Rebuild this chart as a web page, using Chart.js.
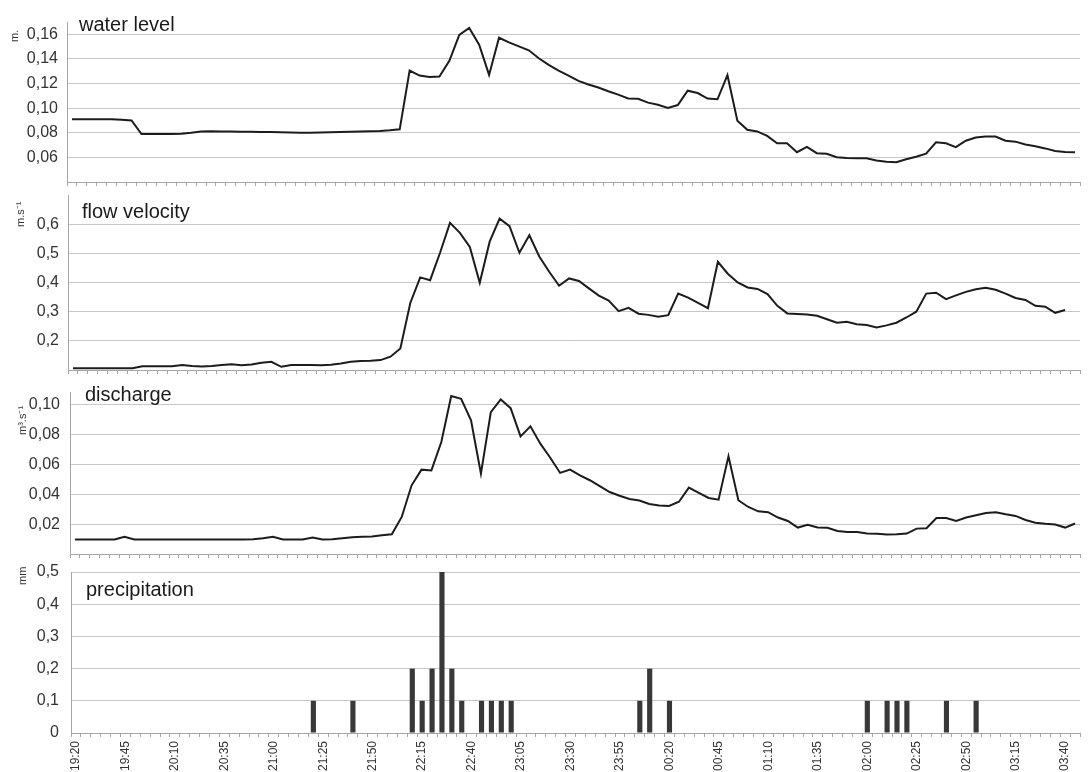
<!DOCTYPE html>
<html>
<head>
<meta charset="utf-8">
<script src="https://cdn.jsdelivr.net/npm/chart.js@4/dist/chart.umd.min.js"></script>
<style>
  html, body { margin: 0; padding: 0; background: #ffffff; }
  #wrap { position: relative; width: 1088px; height: 772px; overflow: hidden; background: #ffffff; }
  #wrap canvas { position: absolute; left: 0; }
</style>
</head>
<body>
<div id="wrap">
  <canvas id="pWater" width="1088" height="190" style="top:0px"></canvas>
  <canvas id="pVelocity" width="1088" height="188" style="top:190px"></canvas>
  <canvas id="pDischarge" width="1088" height="184" style="top:378px"></canvas>
  <canvas id="pPrecip" width="1088" height="210" style="top:562px"></canvas>
</div>
<script>
// 5-minute time steps of the storm event
const timeLabels = [
  '19:20','19:25','19:30','19:35','19:40','19:45','19:50','19:55',
  '20:00','20:05','20:10','20:15','20:20','20:25','20:30','20:35','20:40','20:45','20:50','20:55',
  '21:00','21:05','21:10','21:15','21:20','21:25','21:30','21:35','21:40','21:45','21:50','21:55',
  '22:00','22:05','22:10','22:15','22:20','22:25','22:30','22:35','22:40','22:45','22:50','22:55',
  '23:00','23:05','23:10','23:15','23:20','23:25','23:30','23:35','23:40','23:45','23:50','23:55',
  '00:00','00:05','00:10','00:15','00:20','00:25','00:30','00:35','00:40','00:45','00:50','00:55',
  '01:00','01:05','01:10','01:15','01:20','01:25','01:30','01:35','01:40','01:45','01:50','01:55',
  '02:00','02:05','02:10','02:15','02:20','02:25','02:30','02:35','02:40','02:45','02:50','02:55',
  '03:00','03:05','03:10','03:15','03:20','03:25','03:30','03:35','03:40','03:45'
];

// water level [m]
const waterLevel = [
  0.091, 0.091, 0.091, 0.091, 0.091, 0.0905, 0.090, 0.079, 0.079, 0.079,
  0.079, 0.0793, 0.0800, 0.0810, 0.0812, 0.0811, 0.0810, 0.0809, 0.0808, 0.0807,
  0.0806, 0.0805, 0.0803, 0.0801, 0.0800, 0.0802, 0.0804, 0.0806, 0.0808, 0.0810,
  0.0812, 0.0815, 0.0820, 0.0828, 0.1306, 0.1265, 0.1254, 0.1257, 0.1385, 0.1595,
  0.1652, 0.1515, 0.1270, 0.1572, 0.1535, 0.1502, 0.1470, 0.1405, 0.1352, 0.1305,
  0.1265, 0.1222, 0.1192, 0.1168, 0.1137, 0.1110, 0.1078, 0.1076, 0.1045, 0.1028,
  0.1001, 0.1025, 0.1142, 0.1123, 0.1078, 0.1072, 0.1268, 0.0898, 0.0824, 0.0811,
  0.0775, 0.0715, 0.0714, 0.0642, 0.0686, 0.0634, 0.0629, 0.0601, 0.0595, 0.0593,
  0.0592, 0.0575, 0.0565, 0.0561, 0.0585, 0.0605, 0.0630, 0.0723, 0.0714, 0.0683,
  0.0735, 0.0762, 0.0770, 0.0770, 0.0735, 0.0728, 0.0705, 0.0690, 0.0673, 0.0652,
  0.0643, 0.0641
];

// flow velocity [m.s-1]
const flowVelocity = [
  0.106, 0.106, 0.106, 0.106, 0.106, 0.106, 0.106, 0.113, 0.113, 0.113,
  0.113, 0.117, 0.114, 0.112, 0.114, 0.117, 0.120, 0.116, 0.119, 0.125,
  0.128, 0.111, 0.117, 0.117, 0.117, 0.116, 0.118, 0.122, 0.128, 0.131,
  0.132, 0.134, 0.1455, 0.174, 0.330, 0.4175, 0.408, 0.502, 0.6045, 0.570,
  0.522, 0.399, 0.540, 0.619, 0.593, 0.502, 0.562, 0.489, 0.437, 0.389,
  0.414, 0.405, 0.380, 0.355, 0.338, 0.302, 0.313, 0.293, 0.289, 0.283,
  0.288, 0.362, 0.348, 0.330, 0.312, 0.471, 0.430, 0.400, 0.383, 0.378,
  0.360, 0.320, 0.294, 0.292, 0.290, 0.286, 0.274, 0.262, 0.265, 0.257,
  0.254, 0.246, 0.253, 0.262, 0.280, 0.300, 0.362, 0.365, 0.343, 0.356,
  0.368, 0.377, 0.382, 0.375, 0.362, 0.347, 0.340, 0.320, 0.317, 0.296,
  0.306, null
];

// discharge [m3.s-1]
const discharge = [
  0.0097, 0.0097, 0.0097, 0.0097, 0.0097, 0.0115, 0.0097, 0.0097, 0.0097, 0.0097,
  0.0097, 0.0097, 0.0097, 0.0097, 0.0097, 0.0097, 0.0097, 0.0097, 0.0098, 0.0105,
  0.0115, 0.0097, 0.0097, 0.0097, 0.0110, 0.0097, 0.0098, 0.0105, 0.0112, 0.0115,
  0.0118, 0.0126, 0.0132, 0.0248, 0.0460, 0.0565, 0.0560, 0.0750, 0.1058, 0.1040,
  0.0895, 0.0538, 0.0950, 0.1035, 0.0977, 0.0788, 0.0855, 0.0739, 0.0645, 0.0543,
  0.0565, 0.0527, 0.0494, 0.0455, 0.0415, 0.0390, 0.0368, 0.0358, 0.0335, 0.0325,
  0.0322, 0.0350, 0.0445, 0.0410, 0.0375, 0.0364, 0.0654, 0.0360, 0.0315, 0.0286,
  0.0280, 0.0244, 0.0221, 0.0177, 0.0195, 0.0177, 0.0176, 0.0154, 0.0148, 0.0148,
  0.0137, 0.0135, 0.0130, 0.0132, 0.0137, 0.0170, 0.0173, 0.0241, 0.0241, 0.0221,
  0.0244, 0.0260, 0.0275, 0.0280, 0.0266, 0.0255, 0.0228, 0.0210, 0.0203, 0.0198,
  0.0177, 0.0204
];

// precipitation per 5 min [mm]
const precipitation = [
  0, 0, 0, 0, 0, 0, 0, 0, 0, 0,
  0, 0, 0, 0, 0, 0, 0, 0, 0, 0,
  0, 0, 0, 0, 0.1, 0, 0, 0, 0.1, 0,
  0, 0, 0, 0, 0.2, 0.1, 0.2, 0.5, 0.2, 0.1,
  0, 0.1, 0.1, 0.1, 0.1, 0, 0, 0, 0, 0,
  0, 0, 0, 0, 0, 0, 0, 0.1, 0.2, 0,
  0.1, 0, 0, 0, 0, 0, 0, 0, 0, 0,
  0, 0, 0, 0, 0, 0, 0, 0, 0, 0,
  0.1, 0, 0.1, 0.1, 0.1, 0, 0, 0, 0.1, 0,
  0, 0.1, 0, 0, 0, 0, 0, 0, 0, 0,
  0, 0
];

// value-axis tick labels of each panel
const yTicksWater = [0.06, 0.08, 0.10, 0.12, 0.14, 0.16];
const yTicksVelocity = [0.2, 0.3, 0.4, 0.5, 0.6];
const yTicksDischarge = [0.02, 0.04, 0.06, 0.08, 0.10];
const yTicksPrecip = [0, 0.1, 0.2, 0.3, 0.4, 0.5];

const FONT = '"Liberation Sans", Arial, Helvetica, sans-serif';
const GRID = '#c8c8c8';
const AXIS = '#a6a6a6';
const LINE = '#1c1c1c';

function decimalComma(v, d) {
  return v === 0 ? '0' : v.toFixed(d).replace('.', ',');
}

// panel caption and rotated unit label
const panelTextPlugin = {
  id: 'panelText',
  afterDraw(chart, args, o) {
    const ctx = chart.ctx;
    ctx.save();
    ctx.fillStyle = '#1a1a1a';
    ctx.font = '20px ' + FONT;
    ctx.textAlign = 'left';
    ctx.textBaseline = 'alphabetic';
    ctx.fillText(o.title, o.titleX, o.titleY);
    ctx.fillStyle = '#333333';
    ctx.font = '11px ' + FONT;
    ctx.translate(o.unitX, o.unitY);
    ctx.rotate(-Math.PI / 2);
    ctx.fillText(o.unit, 0, 0);
    ctx.restore();
  }
};

function makePanel(id, cfg) {
  return new Chart(document.getElementById(id), {
    type: cfg.type,
    data: { labels: timeLabels, datasets: [cfg.dataset] },
    options: {
      responsive: false,
      animation: false,
      layout: { padding: { left: 0, right: 8, top: cfg.padTop, bottom: 0 } },
      plugins: {
        legend: { display: false },
        tooltip: { enabled: false },
        panelText: cfg.text
      },
      scales: {
        x: {
          type: 'category',
          offset: true,
          grid: { offset: true, drawOnChartArea: false, drawTicks: true, tickLength: 4, color: AXIS, lineWidth: 1 },
          border: { display: true, color: AXIS, width: 1 },
          ticks: {
            display: cfg.showX,
            autoSkip: false,
            minRotation: 90,
            maxRotation: 90,
            padding: 4,
            color: '#333333',
            font: { family: FONT, size: 12 },
            callback: (v, i) => (i % 5 === 0 ? timeLabels[i] : '')
          },
          afterFit: s => { s.height = cfg.xH; s.paddingLeft = 0; s.paddingRight = 0; }
        },
        y: {
          min: cfg.min,
          max: cfg.max,
          afterBuildTicks: s => { s.ticks = cfg.ticks.map(v => ({ value: v })); },
          grid: { color: GRID, lineWidth: 1, drawTicks: false },
          border: { display: true, color: AXIS, width: 1 },
          ticks: {
            padding: cfg.yPad,
            color: '#333333',
            font: { family: FONT, size: 16 },
            callback: v => decimalComma(v, cfg.dec)
          },
          afterFit: s => { s.width = cfg.yW; s.paddingTop = 0; s.paddingBottom = 0; }
        }
      }
    },
    plugins: [panelTextPlugin]
  });
}

function lineSet(values) {
  return {
    data: values,
    borderColor: LINE,
    borderWidth: 2,
    pointRadius: 0,
    tension: 0,
    fill: false,
    spanGaps: false
  };
}

makePanel('pWater', {
  type: 'line', dataset: lineSet(waterLevel),
  padTop: 22, xH: 8, yW: 67, yPad: 9, showX: false,
  min: 0.04, max: 0.17, ticks: yTicksWater, dec: 2,
  text: { title: 'water level', titleX: 79, titleY: 31, unit: 'm.', unitX: 18, unitY: 42 }
});

makePanel('pVelocity', {
  type: 'line', dataset: lineSet(flowVelocity),
  padTop: 5, xH: 8, yW: 68, yPad: 9, showX: false,
  min: 0.1, max: 0.7, ticks: yTicksVelocity, dec: 1,
  text: { title: 'flow velocity', titleX: 82, titleY: 28, unit: 'm.s\u207B\u00B9', unitX: 24, unitY: 37 }
});

makePanel('pDischarge', {
  type: 'line', dataset: lineSet(discharge),
  padTop: 14, xH: 8, yW: 70, yPad: 10, showX: false,
  min: 0, max: 0.1085, ticks: yTicksDischarge, dec: 2,
  text: { title: 'discharge', titleX: 85, titleY: 23, unit: 'm\u00B3.s\u207B\u00B9', unitX: 26, unitY: 57 }
});

makePanel('pPrecip', {
  type: 'bar',
  dataset: {
    data: precipitation,
    backgroundColor: '#383838',
    borderWidth: 0,
    barPercentage: 0.52,
    categoryPercentage: 1.0
  },
  padTop: 10, xH: 39, yW: 71, yPad: 12, showX: true,
  min: 0, max: 0.5, ticks: yTicksPrecip, dec: 1,
  text: { title: 'precipitation', titleX: 86, titleY: 34, unit: 'mm', unitX: 26, unitY: 23 }
});
</script>
</body>
</html>
